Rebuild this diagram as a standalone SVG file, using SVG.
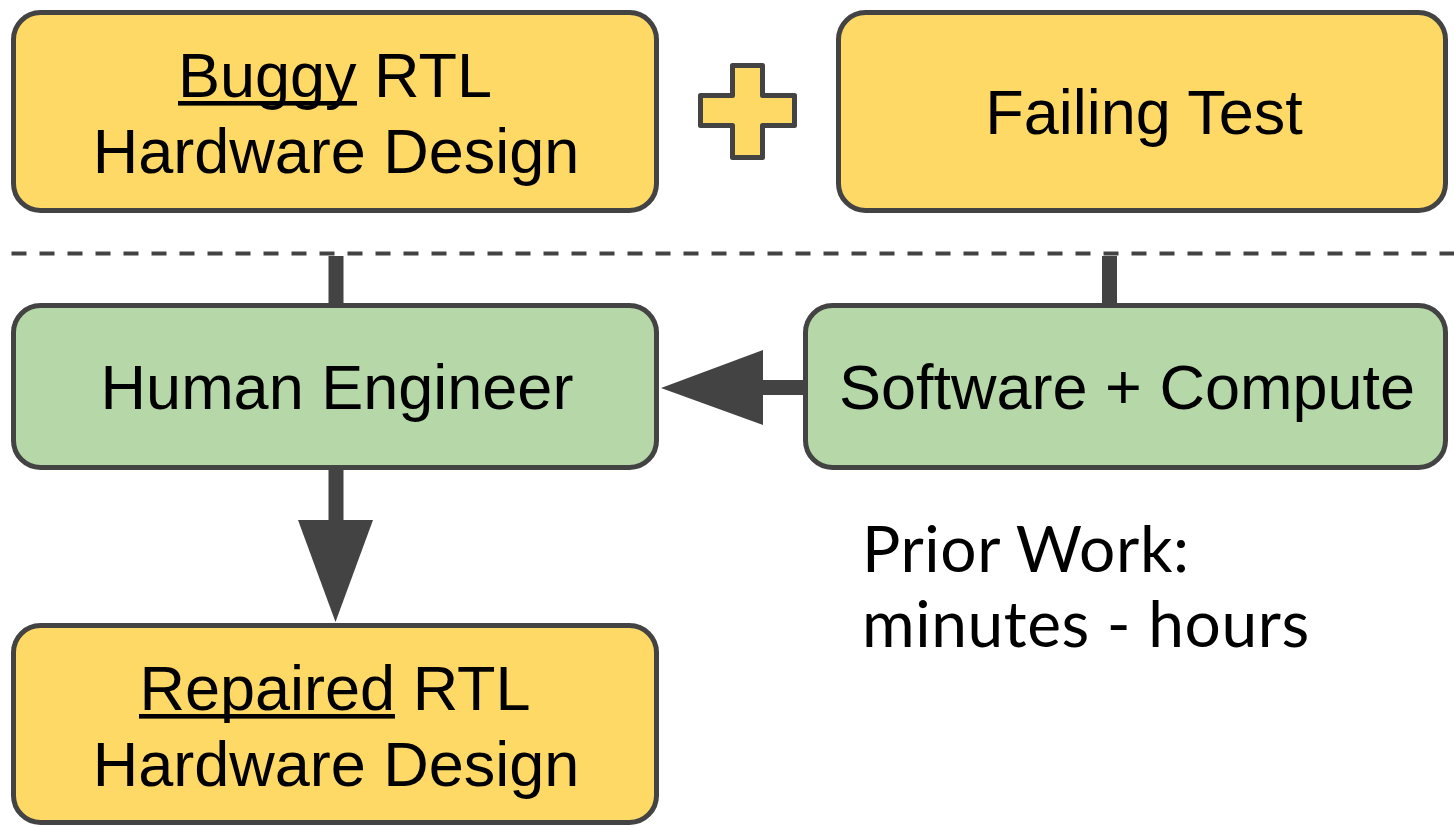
<svg xmlns="http://www.w3.org/2000/svg" width="1454" height="827" viewBox="0 0 1454 827">
<style>
.box{stroke:#434343;stroke-width:5}
.y{fill:#ffd966}
.g{fill:#b6d7a8}
.t{font-family:"Liberation Sans",Arial,sans-serif;font-size:63px;fill:#000;text-anchor:middle}
.ul{fill:#000}
.n{font-family:Lato,"Noto Sans",sans-serif;font-size:64px;letter-spacing:0.6px;fill:#000}
.c{fill:#434343}
</style>
<rect width="1454" height="827" fill="#fff"/>
<g id="connectors">
<line x1="11.5" y1="253.5" x2="1454" y2="253.5" stroke="#434343" stroke-width="4" stroke-dasharray="15 13"/>
<rect class="c" x="328.5" y="256" width="15" height="50"/>
<rect class="c" x="1102" y="256" width="15" height="50"/>
<rect class="c" x="761" y="380" width="45" height="15"/>
<polygon class="c" points="763,350 763,425 661,388"/>
<rect class="c" x="328.5" y="468" width="15" height="54"/>
<polygon class="c" points="298,520 373,520 335.5,622"/>
</g>
<g id="buggy">
<rect class="box y" x="13.5" y="12.5" width="643" height="198" rx="27"/>
<text class="t" x="335" y="97">Buggy RTL</text>
<rect class="ul" x="178" y="101" width="179" height="4.6"/>
<text class="t" x="336" y="173">Hardware Design</text>
</g>
<g id="plus">
<path class="box y" stroke-linejoin="round" d="M732.5,65.5 H762.5 V95.5 H794.5 V125.5 H762.5 V157.5 H732.5 V125.5 H700.5 V95.5 H732.5 Z"/>
</g>
<g id="failing">
<rect class="box y" x="838.5" y="12.5" width="607" height="198" rx="27"/>
<text class="t" x="1144" y="134">Failing Test</text>
</g>
<g id="human">
<rect class="box g" x="13.5" y="305.5" width="643" height="162" rx="27"/>
<text class="t" x="337" y="409">Human Engineer</text>
</g>
<g id="software">
<rect class="box g" x="805.5" y="305.5" width="640" height="162" rx="27"/>
<text class="t" x="1127" y="409">Software + Compute</text>
</g>
<g id="repaired">
<rect class="box y" x="13.5" y="625.5" width="643" height="197" rx="27"/>
<text class="t" x="335" y="710">Repaired RTL</text>
<rect class="ul" x="139" y="714" width="256" height="4.6"/>
<text class="t" x="336" y="786">Hardware Design</text>
</g>
<g id="prior">
<text class="n" x="862" y="572">Prior Work:</text>
<text class="n" x="862" y="647">minutes - hours</text>
</g>
</svg>
